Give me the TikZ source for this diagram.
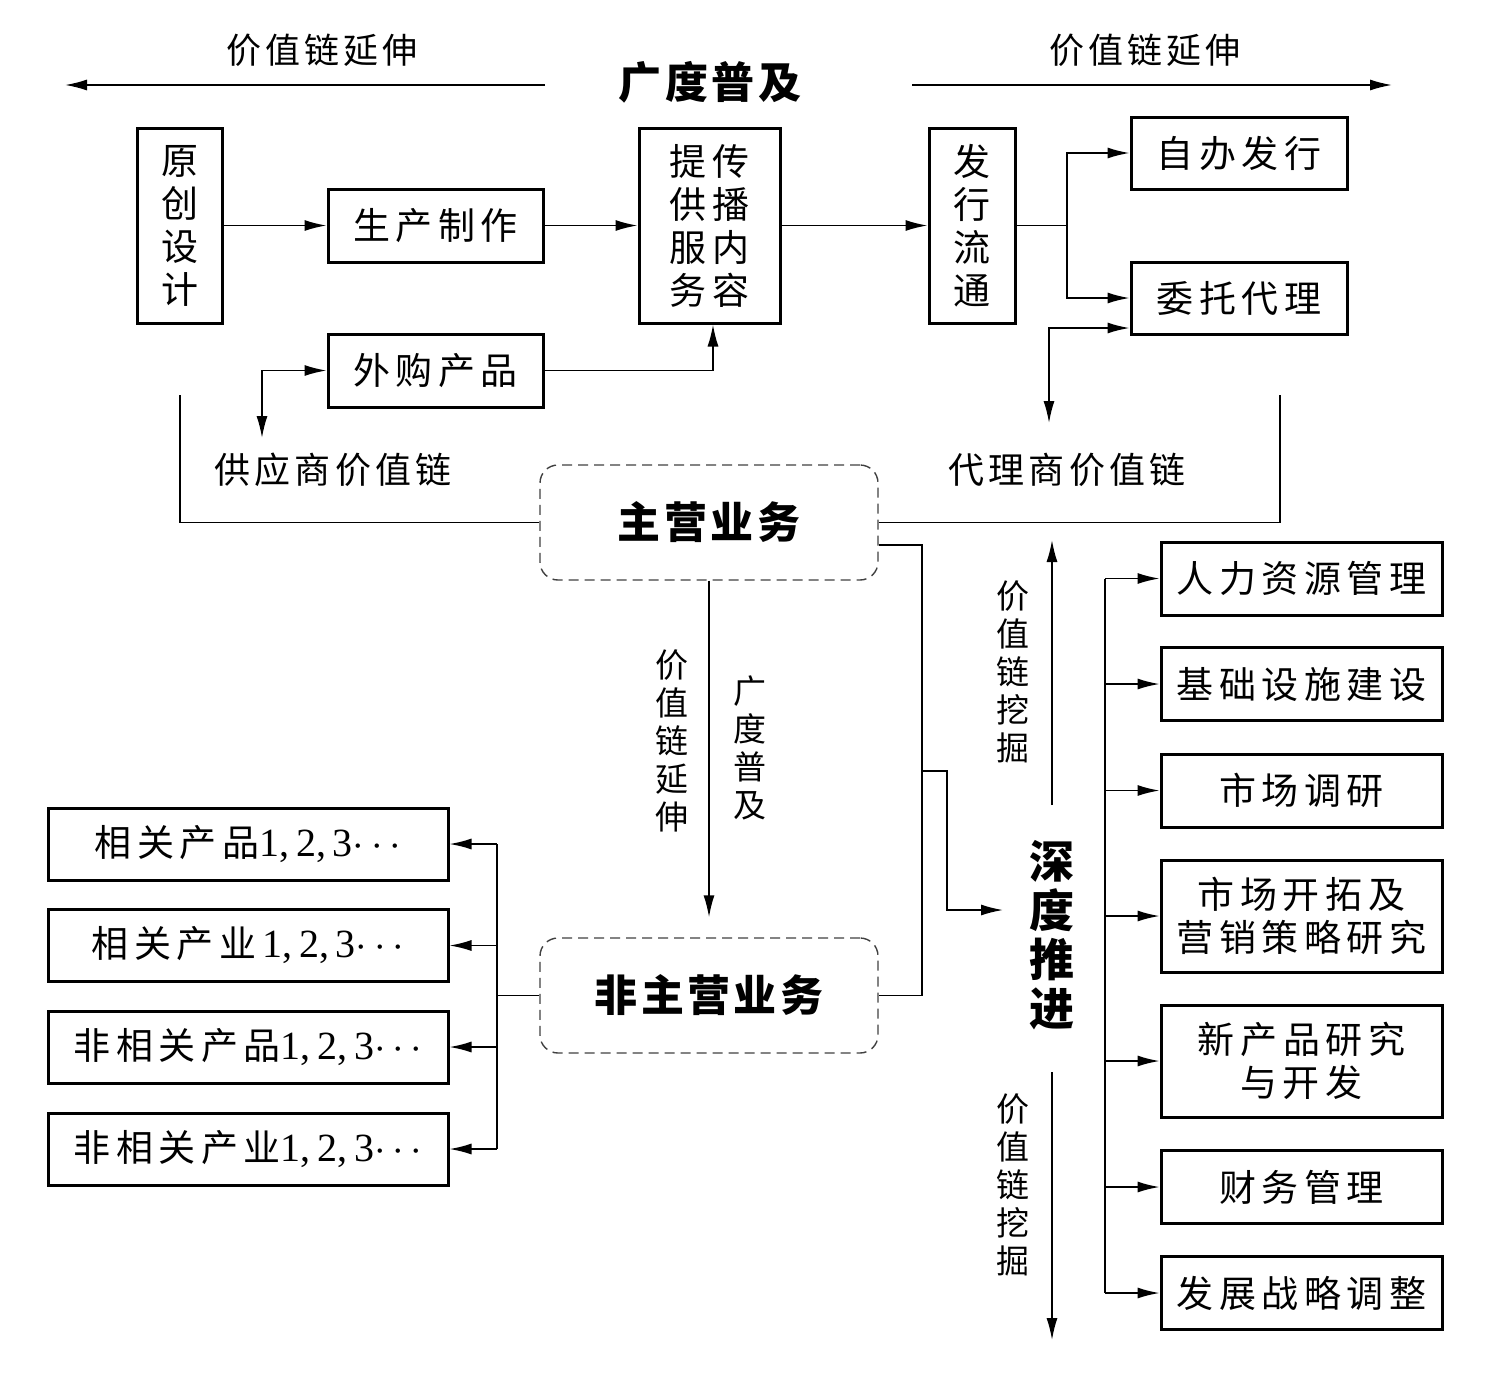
\documentclass[tikz,border=0pt]{standalone}
\usepackage{fontspec}
\setmainfont{Liberation Serif}
\newfontfamily\cjk[LetterSpace=15]{Noto Sans CJK SC}
\newfontfamily\cjkl[LetterSpace=12]{Noto Sans CJK SC}
\newfontfamily\cjkb[LetterSpace=8]{Noto Sans CJK SC}
\usetikzlibrary{arrows.meta,calc}
\begin{document}
\begin{tikzpicture}[x=0.5pt,y=-0.5pt,
  box/.style={draw,line width=1.5pt,inner sep=0pt,align=center,font=\cjk\fontsize{18.5}{21.5}\selectfont},
  rbox/.style={box,minimum width=140.5pt,minimum height=36.5pt},
  lbox/.style={box,minimum width=200pt,minimum height=36pt},
  dbox/.style={draw=black!75,dash pattern=on 5pt off 3pt,rounded corners=9pt,line width=0.7pt,inner sep=0pt,align=center,minimum width=169pt,minimum height=57.5pt,font=\cjkb\bfseries\fontsize{21.5}{24}\selectfont},
  conn/.style={line width=0.8pt},
  arr/.style={conn,-{Latex[length=11pt,width=5.5pt]}},
  darr/.style={conn,{Latex[length=11pt,width=5.5pt]}-{Latex[length=11pt,width=5.5pt]}},
  lbl/.style={inner sep=0pt,font=\cjkl\fontsize{17.5}{19}\selectfont},
  vlbl/.style={inner sep=0pt,align=center,font=\cjk\fontsize{16.5}{19}\selectfont},
  bold/.style={inner sep=0pt,align=center,font=\cjkb\bfseries\fontsize{21.5}{24.5}\selectfont},
  num/.style={font=\rmfamily\fontsize{20}{22}\selectfont}]
\useasboundingbox (0,0) rectangle (1490,1377);

% top labels
\node[lbl] (t1) at (322,50) {价值链延伸};
\node[lbl] (t2) at (1145,50) {价值链延伸};
\node[bold] (gp) at (710,82) {广度普及};
\coordinate (al1) at (545,85);
\coordinate (al2) at (65,85);
\coordinate (ar1) at (912,85);
\coordinate (ar2) at (1392,85);
\draw[arr] (al1) -- (al2);
\draw[arr] (ar1) -- (ar2);

% top row
\node[box,minimum width=42.5pt,minimum height=97.5pt] (yc) at (179.5,225.5) {原\\创\\设\\计};
\node[box,minimum width=107.5pt,minimum height=36.5pt] (sc) at (435.5,225.5) {生产制作};
\node[box,minimum width=70.5pt,minimum height=97.5pt] (tg) at (709.5,225.5) {提传\\供播\\服内\\务容};
\node[box,minimum width=43pt,minimum height=97.5pt] (fx) at (972,225.5) {发\\行\\流\\通};
\node[box,minimum width=108pt,minimum height=36pt] (zb) at (1239,153) {自办发行};
\node[box,minimum width=108pt,minimum height=36pt] (wt) at (1239,298) {委托代理};
\node[box,minimum width=107.5pt,minimum height=36.5pt] (wg) at (435.5,370.5) {外购产品};

\draw[arr] (yc.east) -- (sc.west);
\draw[arr] (sc.east) -- (tg.west);
\draw[arr] (tg.east) -- (fx.west);
\coordinate (b1) at (1067,225.5);
\draw[conn] (fx.east) -- (b1);
\draw[arr] (b1) |- (zb.west);
\draw[arr] (b1) |- (wt.west);
\draw[arr] (wg.east) -| ($(tg.south)+(3.5,0)$);

% value chain labels
\node[lbl,font=\cjkl\fontsize{18}{20}\selectfont] (gys) at (333,470) {供应商价值链};
\node[lbl,font=\cjkl\fontsize{18}{20}\selectfont] (dls) at (1067,470) {代理商价值链};
\coordinate (ga) at (262,438);
\draw[darr] (wg.west) -| (ga);
\coordinate (da) at (1049,423);
\draw[darr] ($(wt.west)+(0,30)$) -| (da);

% main business
\node[dbox] (zy) at (709,522.5) {主营业务};
\node[dbox] (fz) at (709,995.5) {非主营业务};
\coordinate (s1) at (180,395);
\coordinate (s2) at (1280,395);
\draw[conn] (s1) |- (zy.west);
\draw[conn] (zy.east) -| (s2);

\draw[arr] (zy.south) -- ($(fz.north)+(0,-20)$);
\node[vlbl] (v1) at (672,741) {价\\值\\链\\延\\伸};
\node[vlbl] (v2) at (750,748) {广\\度\\普\\及};

% depth
\node[bold,font=\cjkb\bfseries\fontsize{22.5}{24.5}\selectfont] (sd) at (1052,935) {深\\度\\推\\进};
\coordinate (j1) at (922,545);
\coordinate (j2) at (922,771);
\coordinate (sdin) at (1003,910);
\draw[conn] ($(zy.east)+(0,22.5)$) -- (j1) |- (fz.east);
\draw[arr] (j2) -- (947,771) |- (sdin);

\coordinate (u1) at (1052,805);
\coordinate (u2) at (1052,540);
\coordinate (d1) at (1052,1072);
\coordinate (d2) at (1052,1340);
\draw[arr] (u1) -- (u2);
\draw[arr] (d1) -- (d2);
\node[vlbl] (v3) at (1013,672) {价\\值\\链\\挖\\掘};
\node[vlbl] (v4) at (1013,1185) {价\\值\\链\\挖\\掘};

% right column
\node[rbox] (r1) at (1301.5,578.5) {人力资源管理};
\node[rbox] (r2) at (1301.5,684) {基础设施建设};
\node[rbox] (r3) at (1301.5,790.5) {市场调研};
\node[rbox,minimum height=56pt] (r4) at (1301.5,916) {市场开拓及\\营销策略研究};
\node[rbox,minimum height=56pt] (r5) at (1301.5,1061) {新产品研究\\与开发};
\node[rbox] (r6) at (1301.5,1187) {财务管理};
\node[rbox] (r7) at (1301.5,1293) {发展战略调整};
\coordinate (rb1) at (1105,578.5);
\coordinate (rb2) at (1105,1293);
\draw[conn] (rb1) -- (rb2);
\foreach \n in {r1,r2,r3,r4,r5,r6,r7}{
  \draw[arr] (rb1 |- \n.west) -- (\n.west);
}

% left column
\node[lbox] (l1) at (248,844) {相关产品{\rmfamily\fontsize{20}{22}\selectfont 1,\,2,\,3$\cdots$}};
\node[lbox] (l2) at (248,945.5) {相关产业\,{\rmfamily\fontsize{20}{22}\selectfont 1,\,2,\,3$\cdots$}};
\node[lbox] (l3) at (248,1047) {非相关产品{\rmfamily\fontsize{20}{22}\selectfont 1,\,2,\,3$\cdots$}};
\node[lbox] (l4) at (248,1149) {非相关产业{\rmfamily\fontsize{20}{22}\selectfont 1,\,2,\,3$\cdots$}};
\coordinate (lb1) at (497,844);
\coordinate (lb2) at (497,1149);
\draw[conn] (lb1) -- (lb2);
\draw[conn] (fz.west) -- (fz.west -| lb1);
\foreach \n in {l1,l2,l3,l4}{
  \draw[arr] (lb1 |- \n.east) -- (\n.east);
}
\end{tikzpicture}
\end{document}
